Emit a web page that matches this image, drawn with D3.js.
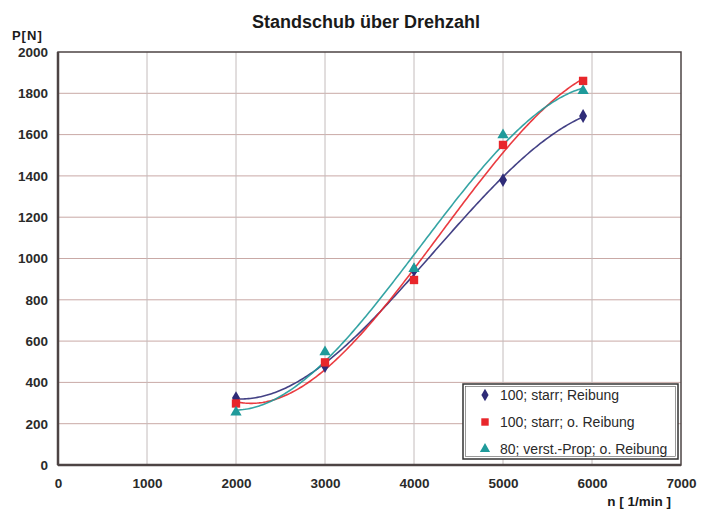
<!DOCTYPE html>
<html><head><meta charset="utf-8">
<script src="https://cdn.jsdelivr.net/npm/d3@7"></script>
<style>body{margin:0;background:#fff;}svg text{font-family:"Liberation Sans",Arial,sans-serif;}</style>
</head><body>
<svg id="c" width="712" height="510"></svg>
<script>
const rpm = [2000, 3000, 4000, 5000, 5900];
const seriesNames = ["100; starr; Reibung", "100; starr; o. Reibung", "80; verst.-Prop; o. Reibung"];
const reibung = [324, 479, 944, 1380, 1690];
const oReibung = [298, 497, 896, 1550, 1860];
const verstProp = [255, 547, 950, 1598, 1812];
const xTicks = [0, 1000, 2000, 3000, 4000, 5000, 6000, 7000];
const yTicks = [0, 200, 400, 600, 800, 1000, 1200, 1400, 1600, 1800, 2000];
const colors = ["#2f2c78", "#e8262b", "#1f9a9a"];
const symbols = [d3.symbolDiamond, d3.symbolSquare, d3.symbolTriangle];

const svg = d3.select("#c");
const L = 58, R = 681, T = 52, B = 465;
const x = d3.scaleLinear().domain([0, 7000]).range([L, R]);
const y = d3.scaleLinear().domain([0, 2000]).range([B, T]);

// grid
svg.append("g").selectAll("line").data(yTicks.slice(1, -1)).join("line")
  .attr("x1", L).attr("x2", R).attr("y1", d => y(d)).attr("y2", d => y(d))
  .attr("stroke", "#c9a9a6").attr("stroke-width", 1);
svg.append("g").selectAll("line").data(xTicks.slice(1, -1)).join("line")
  .attr("y1", T).attr("y2", B).attr("x1", d => x(d)).attr("x2", d => x(d))
  .attr("stroke", "#c4bcbc").attr("stroke-width", 1);

// frame
svg.append("rect").attr("x", L).attr("y", T).attr("width", R - L).attr("height", B - T)
  .attr("fill", "none").attr("stroke", "#4d4444").attr("stroke-width", 1.5);
svg.append("line").attr("x1", L).attr("x2", L).attr("y1", T).attr("y2", B).attr("stroke", "#4d4444").attr("stroke-width", 2.5);
svg.append("line").attr("x1", L).attr("x2", R).attr("y1", B).attr("y2", B).attr("stroke", "#4d4444").attr("stroke-width", 2.5);

// axes
const xAxis = svg.append("g").attr("transform", `translate(0,${B})`)
  .call(d3.axisBottom(x).tickValues(xTicks).tickSize(0).tickPadding(13).tickFormat(d3.format("d")));
const yAxis = svg.append("g").attr("transform", `translate(${L},0)`)
  .call(d3.axisLeft(y).tickValues(yTicks).tickSize(0).tickPadding(10).tickFormat(d3.format("d")));
[xAxis, yAxis].forEach(a => {
  a.select(".domain").remove();
  a.selectAll("text").attr("font-size", 13.5).attr("font-weight", "bold").attr("fill", "#2a2a2a");
});

// cubic least squares trend
function polyFit(xs, ys, deg) {
  const n = deg + 1;
  const sx = xs.map(v => v / 1000);
  const A = Array.from({length: n}, () => new Array(n + 1).fill(0));
  for (let i = 0; i < sx.length; i++) {
    for (let r = 0; r < n; r++) {
      for (let c = 0; c < n; c++) A[r][c] += Math.pow(sx[i], r + c);
      A[r][n] += ys[i] * Math.pow(sx[i], r);
    }
  }
  for (let i = 0; i < n; i++) {
    let p = i;
    for (let k = i + 1; k < n; k++) if (Math.abs(A[k][i]) > Math.abs(A[p][i])) p = k;
    [A[i], A[p]] = [A[p], A[i]];
    for (let k = i + 1; k < n; k++) {
      const f = A[k][i] / A[i][i];
      for (let j = i; j <= n; j++) A[k][j] -= f * A[i][j];
    }
  }
  const c = new Array(n).fill(0);
  for (let i = n - 1; i >= 0; i--) {
    let s = A[i][n];
    for (let j = i + 1; j < n; j++) s -= A[i][j] * c[j];
    c[i] = s / A[i][i];
  }
  return v => c.reduce((acc, ci, k) => acc + ci * Math.pow(v / 1000, k), 0);
}

const all = [reibung, oReibung, verstProp];
const line = d3.line().x(d => x(d[0])).y(d => y(d[1])).curve(d3.curveLinear);
all.forEach((vals, i) => {
  const f = polyFit(rpm, vals, 3);
  const pts = d3.range(rpm[0], rpm[rpm.length - 1] + 1, 20).map(v => [v, f(v)]);
  svg.append("path").datum(pts).attr("d", line).attr("fill", "none")
    .attr("stroke", colors[i]).attr("stroke-width", 1.6).attr("opacity", 0.9);
});
all.forEach((vals, i) => {
  svg.append("g").selectAll("path").data(rpm.map((r, k) => [r, vals[k]])).join("path")
    .attr("transform", d => `translate(${x(d[0])},${y(d[1])})`)
    .attr("d", d3.symbol().type(symbols[i]).size(i === 1 ? 70 : 55))
    .attr("fill", colors[i]);
});

// legend
const lg = svg.append("g");
lg.append("rect").attr("x", 463).attr("y", 384).attr("width", 215).attr("height", 75)
  .attr("fill", "#fff").attr("stroke", "#333").attr("stroke-width", 1.5);
lg.append("rect").attr("x", 465.5).attr("y", 386.5).attr("width", 210).attr("height", 70)
  .attr("fill", "none").attr("stroke", "#555").attr("stroke-width", 0.6);
seriesNames.forEach((nm, i) => {
  const yy = 395 + i * 27;
  lg.append("path").attr("transform", `translate(485,${yy})`)
    .attr("d", d3.symbol().type(symbols[i]).size(i === 1 ? 55 : 45)).attr("fill", colors[i]);
  lg.append("text").attr("x", 500).attr("y", yy + 5).attr("font-size", 14).attr("fill", "#2a2a2a").text(nm);
});

// titles
svg.append("text").attr("x", 366).attr("y", 28).attr("text-anchor", "middle")
  .attr("font-size", 18).attr("font-weight", "bold").attr("fill", "#1a1a1a").text("Standschub über Drehzahl");
svg.append("text").attr("x", 12).attr("y", 40).attr("font-size", 13).attr("font-weight", "bold")
  .attr("word-spacing", "-2.5").attr("fill", "#1a1a1a").text("P [ N ]");
svg.append("text").attr("x", 671).attr("y", 506).attr("text-anchor", "end").attr("font-size", 13.5)
  .attr("font-weight", "bold").attr("fill", "#1a1a1a").text("n [ 1/min ]");
</script>
</body></html>
